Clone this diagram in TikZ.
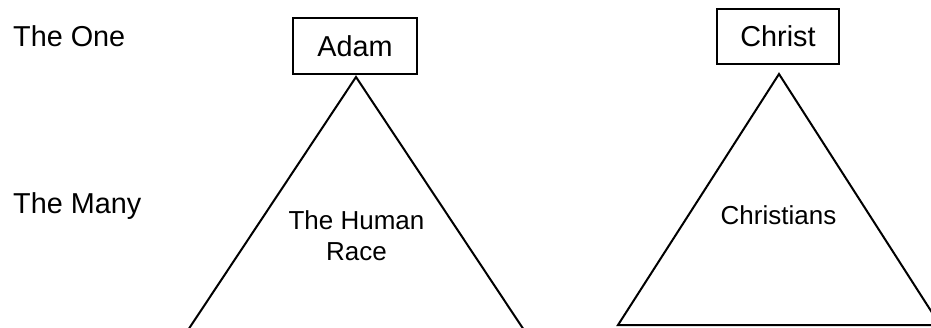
\documentclass[tikz,border=0pt]{standalone}
\usepackage{fontspec}
\setmainfont{Liberation Sans}
\begin{document}
\begin{tikzpicture}[x=1pt,y=-1pt,
  ink/.style={line width=2pt, draw=black},
  bigtext/.style={font=\fontsize{28.8}{34}\selectfont, inner sep=0pt},
  smalltext/.style={font=\fontsize{26}{31}\selectfont, inner sep=0pt},
  headbox/.style={ink, bigtext, minimum width=#1, minimum height=56pt}]
  \useasboundingbox (0,0) rectangle (931,327);
  \clip (0,0) rectangle (931,327);
  \fill[white] (0,0) rectangle (931,327);

  % row labels
  \node[bigtext, anchor=base west] (one)  at (13,46)  {The One};
  \node[bigtext, anchor=base west] (many) at (13,213) {The Many};

  % heads
  \node[headbox=124pt] (adam)   at (355,46)   {Adam};
  \node[headbox=122pt, minimum height=55pt] (christ) at (778,36.5) {Christ};

  % left triangle (base runs off the bottom)
  \coordinate (lapex) at (356,77);
  \coordinate (lleft) at (181.4,340);
  \coordinate (lright) at (530.6,340);
  \draw[ink, line join=miter] (lleft) -- (lapex) -- (lright) -- cycle;

  % right triangle (right corner runs off the side)
  \coordinate (rapex) at (779,74);
  \coordinate (rleft) at (618,325);
  \coordinate (rright) at (940,325);
  \draw[ink, line join=miter] (rleft) -- (rapex) -- (rright) -- cycle;

  % triangle labels
  \node[smalltext, anchor=base] (race1) at (356.5,229) {The Human};
  \node[smalltext, anchor=base] (race2) at (356.5,260) {Race};
  \node[smalltext, anchor=base] (many2) at (778.5,224) {Christians};
\end{tikzpicture}
\end{document}
